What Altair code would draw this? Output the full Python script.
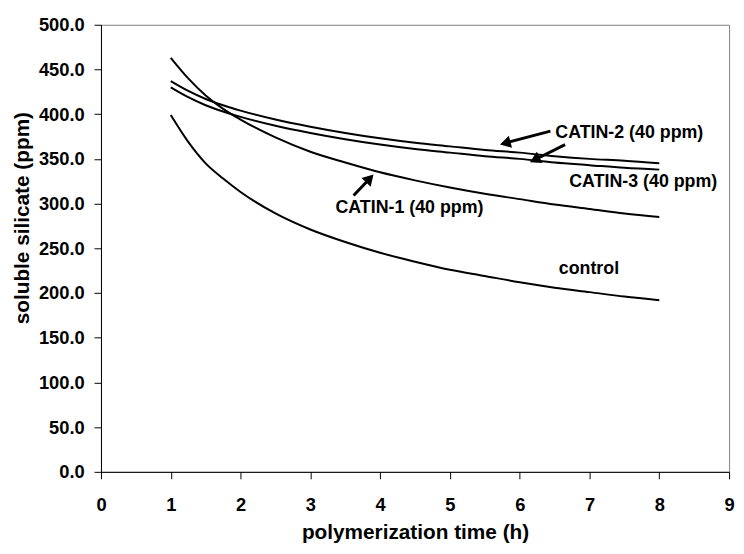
import math
import altair as alt
import pandas as pd

# ---- data ----
time_h = [1, 1.25, 1.5, 1.75, 2, 2.5, 3, 3.5, 4, 4.5, 5, 5.5, 6, 6.5, 7, 7.5, 8]
control = [399, 369, 345, 328, 313, 289, 271, 257, 245, 235, 226, 219, 212, 206, 201, 196, 192]
catin1 = [463, 440, 421, 406, 394, 374, 358, 346, 335, 326, 318, 311, 305, 299, 294, 289, 285]
catin2 = [437, 426, 417, 410, 404, 394, 386, 379, 373, 368, 364, 360, 357, 353, 350, 348, 345]
catin3 = [430, 419, 410, 403, 397, 387, 379, 372, 366, 361, 357, 353, 350, 346, 343, 340, 338]
series_names = ["control", "CATIN-1", "CATIN-2", "CATIN-3"]

x_ticks = [0, 1, 2, 3, 4, 5, 6, 7, 8, 9]
y_ticks = [0, 50, 100, 150, 200, 250, 300, 350, 400, 450, 500]

label_text = ["CATIN-2 (40 ppm)", "CATIN-3 (40 ppm)", "CATIN-1 (40 ppm)", "control"]
label_x = [6.51, 6.71, 3.36, 6.56]
label_y = [379, 324, 295, 227]

arrow_tail_x = [6.44, 6.65, 3.62]
arrow_tail_y = [381, 366, 309]
arrow_tip_x = [5.71, 6.14, 3.91]
arrow_tip_y = [366, 346, 333]

# ---- layout ----
W, H = 635, 452
X_MAX, Y_MAX = 9, 500
FONT = "Liberation Sans"

rows = []
for name, vals in zip(series_names, [control, catin1, catin2, catin3]):
    for t, v in zip(time_h, vals):
        rows.append({"series": name, "t": t, "v": v})
df = pd.DataFrame(rows)

x_scale = alt.Scale(domain=[0, X_MAX], nice=False, zero=False)
y_scale = alt.Scale(domain=[0, Y_MAX], nice=False, zero=False)

x_axis = alt.Axis(values=x_ticks, format="d", grid=False, tickSize=7,
                  tickColor="black", domainColor="black", labelColor="black",
                  labelFont=FONT, labelFontSize=18.5, labelFontWeight="bold",
                  labelPadding=17, labelFlush=False,
                  titleFont=FONT, titleFontSize=21, titleFontWeight="bold",
                  titleColor="black", titleY=67, titleBaseline="alphabetic")
y_axis = alt.Axis(values=y_ticks, format=".1f", grid=False, tickSize=7,
                  tickColor="black", domainColor="black", labelColor="black",
                  labelFont=FONT, labelFontSize=18.5, labelFontWeight="bold",
                  labelPadding=10, labelFlush=False,
                  titleFont=FONT, titleFontSize=21, titleFontWeight="bold",
                  titleColor="black", titleAngle=270, titleAlign="center",
                  titleBaseline="middle", titleX=-79, titleY=195)

lines = alt.Chart(df).mark_line(color="black", strokeWidth=2, interpolate="monotone").encode(
    x=alt.X("t:Q", scale=x_scale, axis=x_axis, title="polymerization time (h)"),
    y=alt.Y("v:Q", scale=y_scale, axis=y_axis, title="soluble silicate (ppm)"),
    detail="series:N",
)

lab_df = pd.DataFrame({"x": label_x, "y": label_y, "text": label_text})
labels = alt.Chart(lab_df).mark_text(
    align="left", baseline="middle", font=FONT, fontSize=18, fontWeight="bold", color="black"
).encode(
    x=alt.X("x:Q", scale=x_scale),
    y=alt.Y("y:Q", scale=y_scale),
    text="text:N",
)

# arrows: shaft + triangular head pointing at the curve
px_x = W / X_MAX
px_y = H / Y_MAX
head_back = 6  # px from tip to head centre
arr_rows = []
for tx, ty, hx, hy in zip(arrow_tail_x, arrow_tail_y, arrow_tip_x, arrow_tip_y):
    dx = (hx - tx) * px_x
    dy = -(hy - ty) * px_y
    L = math.hypot(dx, dy)
    ang = math.degrees(math.atan2(dx, -dy)) % 360
    cx = hx - (dx / L) * head_back / px_x
    cy = hy + (dy / L) * head_back / px_y
    arr_rows.append({"tx": tx, "ty": ty, "cx": cx, "cy": cy, "angle": ang})
arr_df = pd.DataFrame(arr_rows)

shafts = alt.Chart(arr_df).mark_rule(color="black", strokeWidth=3).encode(
    x=alt.X("tx:Q", scale=x_scale), y=alt.Y("ty:Q", scale=y_scale),
    x2="cx:Q", y2="cy:Q",
)
heads = alt.Chart(arr_df).mark_point(
    shape="triangle-up", filled=True, color="black", opacity=1, size=160
).encode(
    x=alt.X("cx:Q", scale=x_scale), y=alt.Y("cy:Q", scale=y_scale),
    angle=alt.Angle("angle:Q", scale=None),
)

chart = alt.layer(lines, shafts, heads, labels).properties(
    width=W, height=H,
    autosize=alt.AutoSizeParams(type="none"),
    padding={"left": 94, "top": 14, "right": 7, "bottom": 70},
    background="white",
).configure_view(stroke="#808080", strokeWidth=1)

chart.save("out.html", embed_options={"renderer": "svg", "actions": False})
